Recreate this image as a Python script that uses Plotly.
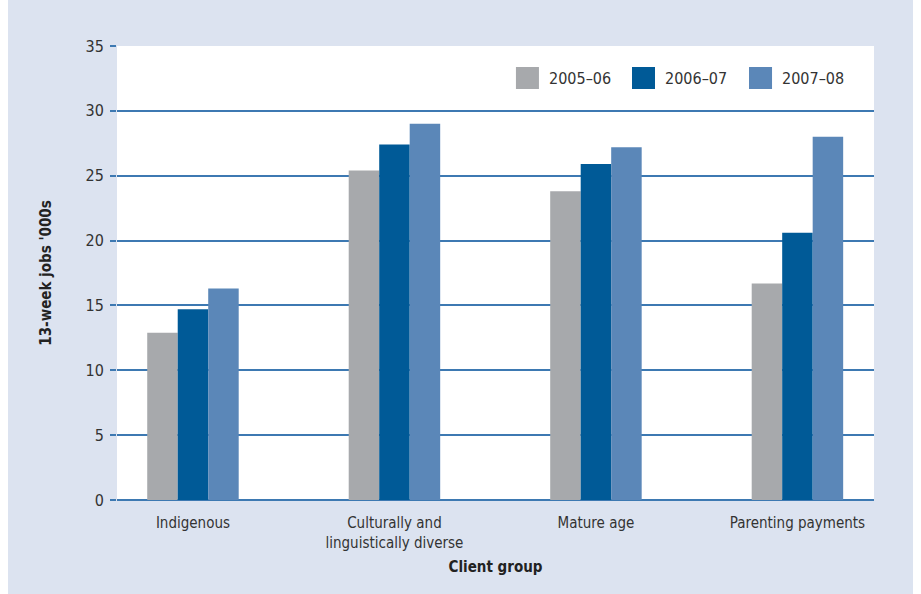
import plotly.graph_objects as go

categories = ["Indigenous", "Culturally and<br>linguistically diverse", "Mature age", "Parenting payments"]
series_names = ["2005–06", "2006–07", "2007–08"]
values_2005_06 = [12.9, 25.4, 23.8, 16.7]
values_2006_07 = [14.7, 27.4, 25.9, 20.6]
values_2007_08 = [16.3, 29.0, 27.2, 28.0]
y_ticks = [0, 5, 10, 15, 20, 25, 30, 35]

colors = ["#a7a9ac", "#005a97", "#5b87b8"]
FONT = "DejaVu Sans Condensed, Liberation Sans Narrow, Arial Narrow, sans-serif"
GRID = "#3d79b2"

fig = go.Figure()
for name, vals, col in zip(series_names, [values_2005_06, values_2006_07, values_2007_08], colors):
    fig.add_trace(go.Bar(x=categories, y=vals, name=name, marker=dict(color=col, line=dict(width=0)),
                         showlegend=False))

fig.update_layout(
    width=913, height=594,
    barmode="group", bargap=0.546, bargroupgap=0,
    paper_bgcolor="#dce3f0", plot_bgcolor="#ffffff",
    margin=dict(l=109, r=47, t=46, b=94),
    font=dict(family=FONT, size=15, color="#333333"),
    xaxis=dict(range=[-0.377, 3.38], showgrid=False, zeroline=False, showline=False,
               ticks="outside", ticklen=9, tickcolor="rgba(0,0,0,0)",
               title=dict(text="<b>Client group</b>", font=dict(size=15, color="#222222"), standoff=10)),
    yaxis=dict(range=[0, 35], tickvals=y_ticks, showgrid=True, gridcolor=GRID, gridwidth=1.5,
               zeroline=True, zerolinecolor=GRID, zerolinewidth=1.5, showline=False,
               ticks="outside", ticklen=6, tickcolor=GRID, tickwidth=1.5, ticklabelstandoff=3,
               tickfont=dict(size=16),
               title=dict(text="<b>13-week jobs '000s</b>", font=dict(size=15, color="#222222"), standoff=30)),
)

# custom legend (large square swatches)
sw_x0 = [0.527, 0.6803, 0.8349]
for name, col, x0 in zip(series_names, colors, sw_x0):
    fig.add_shape(type="rect", xref="paper", yref="paper", x0=x0, x1=x0 + 0.0304,
                  y0=0.9053, y1=0.9537, fillcolor=col, line=dict(width=0))
    fig.add_annotation(xref="paper", yref="paper", x=x0 + 0.0410, y=0.9295, text=name,
                       showarrow=False, xanchor="left", yanchor="middle",
                       font=dict(family=FONT, size=16, color="#333333"))

fig.write_html("out.html", post_script="document.body.style.marginTop='0px';")
